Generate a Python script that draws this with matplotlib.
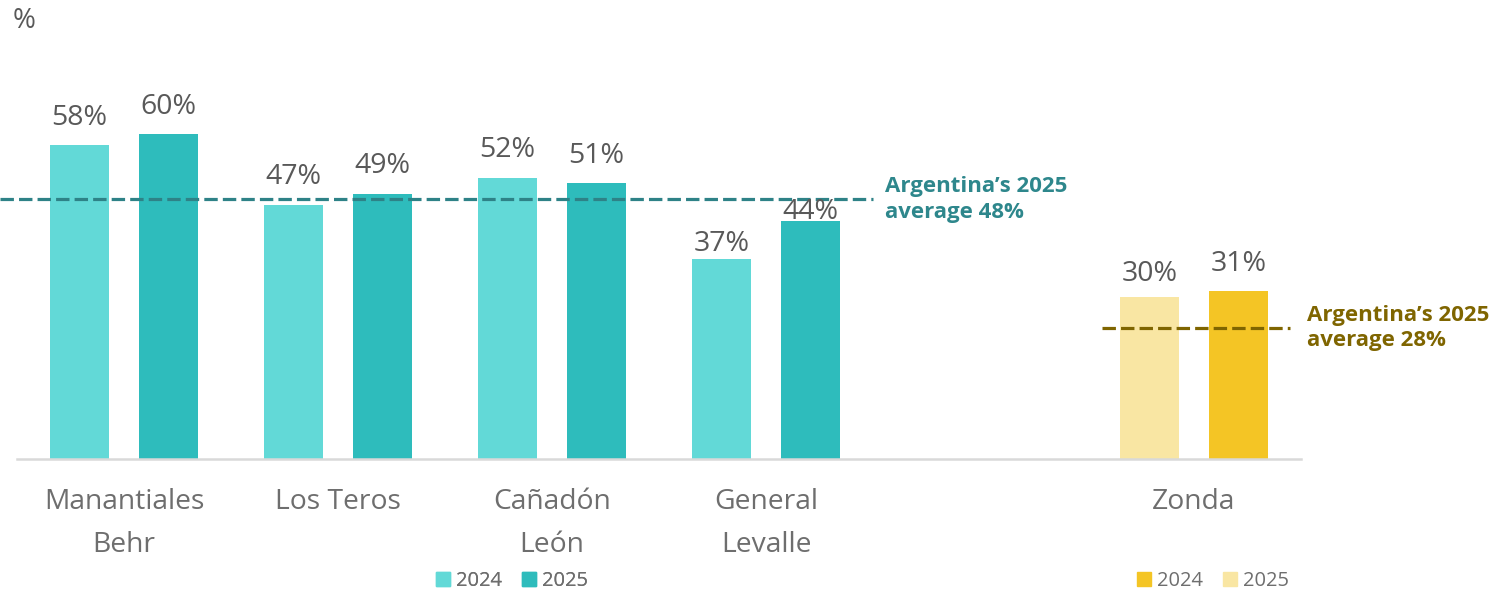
import numpy as np
import matplotlib.pyplot as plt
from matplotlib.patches import Patch

plt.rcParams['font.family'] = ['Open Sans', 'DejaVu Sans']

categories = ["Manantiales\nBehr", "Los Teros", "Cañadón\nLeón", "General\nLevalle", "Zonda"]
positions = [0, 1, 2, 3, 5]
values_2024 = [58, 47, 52, 37, 30]
values_2025 = [60, 49, 51, 44, 31]
avg_main = 48
avg_zonda = 28
avg_zonda_line = 24.2  # where the dashed line sits in the picture

teal_light = "#62D9D7"
teal_dark = "#2EBCBC"
yel_light = "#F9E6A3"
yel_dark = "#F4C525"
teal_text = "#2E878C"
olive = "#7F6500"
grey = "#595959"

fig = plt.figure(figsize=(14.96, 5.94), dpi=100)
W, H = 1496, 594
ax = fig.add_axes([17 / W, 1 - 459 / H, 1284 / W, 433 / H])
ax.set_xlim(-0.5, 5.5)
ax.set_ylim(0, 80)

bw = 0.28
off = 0.208
c24 = [teal_light] * 4 + [yel_light]
c25 = [teal_dark] * 4 + [yel_dark]
x = np.array(positions, dtype=float)
b1 = ax.bar(x - off, values_2024, bw, color=c24, zorder=2)
b2 = ax.bar(x + off, values_2025, bw, color=c25, zorder=2)

# label gaps above bars in pixels (as placed in the original)
gap24 = [20, 21, 21, 8, 16]
gap25 = [20, 21, 20, 2, 20]
for bars, vals, gaps in [(b1, values_2024, gap24), (b2, values_2025, gap25)]:
    for r, v, g in zip(bars, vals, gaps):
        ax.annotate(f"{v}%", (r.get_x() + r.get_width() / 2, v),
                    xytext=(0, g * 0.72), textcoords="offset points",
                    ha="center", va="baseline", fontsize=20.5, color=grey, zorder=4)

# average lines
ax.plot([-0.58, 3.5], [avg_main, avg_main], color="#2E8287", lw=2.3,
        dashes=(4.2, 1.6), clip_on=False, zorder=3)
ax.text(3.555, avg_main, f"Argentina’s 2025\naverage {avg_main}%", ha="left", va="center",
        fontsize=16, fontweight="bold", color=teal_text, linespacing=1.3)
ax.plot([4.57, 5.45], [avg_zonda_line, avg_zonda_line], color=olive, lw=2.3,
        dashes=(4.2, 1.6), clip_on=False, zorder=3)
ax.text(5.53, avg_zonda_line, f"Argentina’s 2025\naverage {avg_zonda}%", ha="left",
        va="center", fontsize=16, fontweight="bold", color=olive, linespacing=1.3,
        clip_on=False)

ax.set_xticks(positions)
ax.set_xticklabels(categories, fontsize=20.3, color="#6E6E6E", linespacing=1.7)
ax.tick_params(axis="x", length=0, pad=21)
ax.set_yticks([])
for s in ["top", "right", "left"]:
    ax.spines[s].set_visible(False)
ax.spines["bottom"].set_color("#D9D9D9")
ax.spines["bottom"].set_linewidth(1.8)

fig.text(13 / W, 1 - 21 / H, "%", fontsize=20, color=grey, va="center", ha="left")

leg_kw = dict(ncol=2, frameon=False, fontsize=14.5, handlelength=0.7, handleheight=0.7,
              handletextpad=0.3, columnspacing=1.0, labelcolor="#6E6E6E", loc="center")
l1 = fig.legend([Patch(color=teal_light), Patch(color=teal_dark)], ["2024", "2025"],
                bbox_to_anchor=(512 / W, 1 - 581 / H), **leg_kw)
fig.add_artist(l1)
fig.legend([Patch(color=yel_dark), Patch(color=yel_light)], ["2024", "2025"],
           bbox_to_anchor=(1213 / W, 1 - 581 / H), **leg_kw)

fig.savefig("out.png", dpi=100)
